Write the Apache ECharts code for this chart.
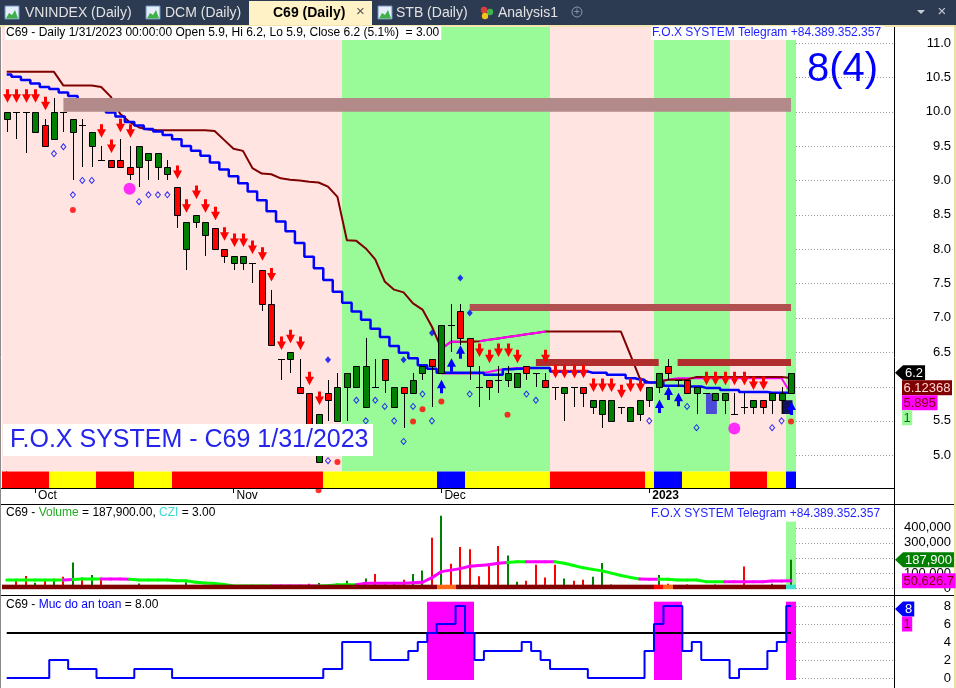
<!DOCTYPE html>
<html><head><meta charset="utf-8">
<script src="https://cdn.jsdelivr.net/npm/echarts@6/dist/echarts.min.js"></script>
<style>html,body{margin:0;padding:0;background:#fff;overflow:hidden}#c{width:956px;height:688px}</style>
</head><body><div id="c"></div>
<script>
// ---------------- DATA ----------------
const ticker = 'C69';
const dates = [
 '2022-09-28','2022-09-29','2022-09-30',
 '2022-10-03','2022-10-04','2022-10-05','2022-10-06','2022-10-07','2022-10-10','2022-10-11','2022-10-12','2022-10-13','2022-10-14',
 '2022-10-17','2022-10-18','2022-10-19','2022-10-20','2022-10-21','2022-10-24','2022-10-25','2022-10-26','2022-10-27','2022-10-28','2022-10-31',
 '2022-11-01','2022-11-02','2022-11-03','2022-11-04','2022-11-07','2022-11-08','2022-11-09','2022-11-10','2022-11-11','2022-11-14','2022-11-15',
 '2022-11-16','2022-11-17','2022-11-18','2022-11-21','2022-11-22','2022-11-23','2022-11-24','2022-11-25','2022-11-28','2022-11-29','2022-11-30',
 '2022-12-01','2022-12-02','2022-12-05','2022-12-06','2022-12-07','2022-12-08','2022-12-09','2022-12-12','2022-12-13','2022-12-14','2022-12-15',
 '2022-12-16','2022-12-19','2022-12-20','2022-12-21','2022-12-22','2022-12-23','2022-12-26','2022-12-27','2022-12-28','2022-12-29','2022-12-30',
 '2023-01-03','2023-01-04','2023-01-05','2023-01-06','2023-01-09','2023-01-10','2023-01-11','2023-01-12','2023-01-13','2023-01-16','2023-01-17',
 '2023-01-18','2023-01-19','2023-01-27','2023-01-30','2023-01-31'];
const monthNames = ['Jan','Feb','Mar','Apr','May','Jun','Jul','Aug','Sep','Oct','Nov','Dec'];

const open = [9.9,10.0,10.0,9.7,9.8,9.6,10.0,9.7,9.8,9.5,
 9.3,9.3,9.3,9.2,9.2,9.3,9.2,9.1,8.9,8.0,
 8.4,8.2,8.3,8.0,7.8,7.8,7.8,7.7,7.2,6.4,
 6.4,6.0,5.9,4.9,5.9,5.5,6.0,6.0,5.7,6.0,
 6.4,5.7,6.0,5.9,6.2,6.4,6.2,6.9,7.1,6.7,
 6.0,6.1,6.1,6.1,6.0,6.3,6.2,6.1,6.0,5.9,
 6.0,6.0,5.7,5.6,5.5,5.7,5.5,5.6,5.8,6.0,
 6.3,6.1,6.1,5.9,5.9,5.8,5.8,5.6,5.7,5.7,
 5.8,5.8,5.8,5.9];
const high = [10.0,10.0,10.0,10.0,9.9,10.2,10.0,9.9,9.9,9.7,
 9.5,9.3,9.6,9.5,9.5,9.4,9.4,9.3,8.9,8.4,
 8.5,8.4,8.3,8.0,7.9,7.9,7.8,7.7,7.4,6.4,
 6.5,6.4,5.9,5.6,6.1,6.2,6.2,6.3,6.7,6.4,
 6.4,6.0,6.0,6.2,6.3,6.4,6.9,7.2,7.2,6.7,
 6.3,6.1,6.3,6.3,6.2,6.3,6.2,6.2,6.0,6.0,
 6.0,6.0,5.8,5.8,5.8,5.7,5.7,5.8,6.0,6.2,
 6.4,6.1,6.1,6.0,5.9,5.9,5.9,5.9,5.9,5.8,
 5.8,5.9,6.0,6.2];
const low = [9.7,9.6,9.4,9.7,9.5,9.6,9.7,9.0,9.2,9.2,
 9.3,9.2,9.2,9.0,8.9,9.0,9.0,9.0,8.3,7.7,
 8.3,7.9,8.0,7.8,7.7,7.7,7.5,7.1,6.6,6.1,
 6.2,5.9,5.3,4.9,5.5,5.5,5.5,6.0,5.7,6.0,
 5.9,5.7,5.4,5.9,6.1,5.7,6.2,6.5,6.6,6.1,
 5.7,5.8,5.9,6.0,6.0,6.1,6.0,6.0,5.8,5.5,
 5.7,5.7,5.6,5.4,5.5,5.6,5.5,5.5,5.7,5.9,
 6.1,6.0,5.9,5.6,5.9,5.8,5.6,5.6,5.6,5.6,
 5.6,5.6,5.6,5.9];
const close = [10.0,10.0,10.0,10.0,9.5,10.0,10.0,9.9,9.8,9.7,
 9.3,9.2,9.2,9.1,9.5,9.4,9.4,9.2,8.5,8.4,
 8.5,8.4,8.0,7.9,7.9,7.9,7.8,7.2,6.6,6.4,
 6.5,5.9,5.3,5.6,5.8,6.0,6.2,6.3,6.3,6.0,
 6.1,6.0,5.9,6.1,6.3,6.3,6.9,6.9,6.7,6.3,
 6.0,6.0,6.1,6.2,6.2,6.2,6.2,6.0,6.0,6.0,
 6.0,5.9,5.8,5.8,5.8,5.7,5.7,5.8,6.0,6.2,
 6.2,6.1,5.9,6.0,5.9,5.9,5.9,5.6,5.7,5.8,
 5.7,5.9,5.9,6.2];
const volume = [20000,49000,81000,36000,49000,63000,76000,171000,72000,88000,
 70000,18000,15000,15000,32000,18000,18000,18000,15000,40000,
 12000,15000,12000,10000,14000,12000,10000,14000,22000,10000,
 16000,12000,30000,35000,15000,30000,50000,20000,65000,94000,
 40000,30000,56000,94000,117000,334000,479000,162000,272000,257000,
 80000,153000,279000,216000,43000,50000,155000,72000,155000,65000,
 50000,56000,76000,167000,25000,15000,20000,15000,20000,88000,
 30000,20000,25000,15000,20000,25000,20000,15000,144000,20000,
 15000,30000,20000,187900];
const volMA = [55000,55000,55000,55000,55000,55000,55000,58000,62000,62000,
 62000,62000,62000,60000,55000,55000,55000,55000,50000,50000,
 40000,35000,32000,25000,15000,15000,15000,15000,15000,15000,
 15000,15000,15000,15000,17000,24000,24000,24000,34000,34000,
 34000,34000,34000,36000,40000,70000,110000,120000,130000,145000,
 150000,155000,165000,170000,175000,175000,175000,175000,175000,165000,
 150000,135000,125000,115000,100000,85000,72000,62000,60000,60000,
 60000,55000,55000,55000,44000,44000,44000,44000,44000,44000,
 44000,48000,48000,50626.7];
const maColorRuns = [['g',7],['m',1],['g',3],['m',3],['g',15],['m',5],['g',4],['m',16],['g',2],['m',3],['g',9],['m',2],['g',7],['m',7]];
const bandRuns = [['M',46],['O',2],['M',21],['R',1],['O',1],['M',12],['C',1]];
const volHighlightIdx = [83];
const volHighlightTop = 440000;

const trail = [10.58,10.58,10.58,10.58,10.58,10.58,10.38,10.38,10.38,10.38,
 10.36,10.22,9.97,9.85,9.77,9.74,9.73,9.73,9.73,9.73,
 9.73,9.73,9.72,9.59,9.46,9.43,9.18,9.10,9.09,9.03,
 9.01,9.00,8.98,8.97,8.91,8.76,8.13,8.12,8.01,7.85,
 7.53,7.41,7.37,7.21,7.12,6.87,6.55,6.65,6.65,6.65,
 6.66,6.68,6.70,6.72,6.74,6.76,6.78,6.80,6.80,6.80,
 6.80,6.80,6.80,6.80,6.80,6.80,6.46,6.12,6.06,6.06,
 6.10,6.10,6.10,6.14,6.14,6.14,6.14,6.14,6.14,6.14,
 6.14,6.14,6.14,6.12368];
const trailHiSegs = [{start:46, vals:[6.55,6.65,6.65]},{start:50, vals:[6.66,6.68,6.70,6.72,6.74,6.76,6.78,6.80]}];
const blueLine = [10.54,10.51,10.46,10.41,10.36,10.33,10.28,10.23,10.17,10.11,
 10.05,9.99,9.93,9.85,9.80,9.75,9.71,9.66,9.60,9.50,
 9.43,9.36,9.26,9.16,9.06,8.96,8.84,8.71,8.55,8.40,
 8.26,8.09,7.89,7.72,7.55,7.38,7.22,7.09,6.97,6.84,
 6.72,6.59,6.49,6.41,6.31,6.26,6.20,6.20,6.20,6.20,
 6.20,6.17,6.17,6.25,6.26,6.27,6.27,6.27,6.22,6.22,
 6.22,6.22,6.20,6.20,6.17,6.17,6.12,6.10,6.06,6.06,
 6.01,6.01,6.00,6.00,5.98,5.98,5.95,5.95,5.92,5.92,
 5.92,5.91,5.91,5.91];
const magLoSegs = [{start:46, vals:[6.19,6.19,6.19,6.19,6.19,6.21,6.24,6.26,6.27,6.27,6.27]},
 {start:69, vals:[6.09,6.10,6.12,6.12,6.12,6.12,6.12,6.12,6.12,6.12,6.12,6.12,6.12,6.12,5.895]}];

const sellIdx = [0,1,2,3,4,10,11,12,13,18,19,20,21,22,23,24,25,26,27,28,29,30,31,32,33,50,51,52,53,54,57,58,59,60,61,62,63,64,65,66,67,74,75,76,77,78,79,80];
const sellTip = [10.13,10.13,10.13,10.13,10.02,9.62,9.40,9.70,9.62,9.02,8.53,8.73,8.53,8.42,8.12,8.03,8.03,7.93,7.83,7.53,6.53,6.63,6.53,6.02,5.73,6.43,6.34,6.43,6.43,6.34,6.34,6.12,6.12,6.12,6.12,5.92,5.92,5.92,5.83,5.92,5.92,6.02,6.02,6.02,6.02,6.02,5.95,5.95];
const buyIdx = [46,47,48,69,70,71,83];
const buyTip = [6.10,6.41,6.60,5.81,6.00,5.91,5.78];
const hollowDiamonds = [[5,9.39],[6,9.49],[7,8.79],[8,9.0],[9,9.0],[14,8.69],[15,8.79],[16,8.79],[17,8.79],[34,4.92],[37,5.80],[38,5.50],[39,5.80],[40,5.71],[41,5.50],[42,5.20],[43,5.71],[44,5.89],[45,5.50],[49,5.89],[55,5.89],[56,5.80],[68,5.50],[72,5.71],[73,5.40],[81,5.40],[82,5.50]];
const filledDiamonds = [[34,6.39],[42,6.39],[45,6.78],[48,7.58],[49,7.07]];
const redDots = [[7,8.57],[33,4.49],[35,4.90],[43,5.49],[44,5.67],[46,5.78],[53,5.59],[83,5.49]];
const magentaDots = [[13,8.88],[77,5.39]];

const zoneFrom = [6,49,56,71], zoneTo = [83,83,69,83], zoneLo = [10.0,7.1,6.3,6.3], zoneHi = [10.2,7.2,6.4,6.4];
const boxFrom = [74,82], boxTo = [75,83], boxLo = [5.6,5.6], boxHi = [5.9,5.8];

const bgRuns = [['p',36],['g',22],['p',11],['g',8],['p',6],['g',1]];
const stripRuns = [['r',5],['y',5],['r',4],['y',4],['r',16],['y',12],['b',3],['y',9],['r',10],['y',1],['b',3],['y',5],['r',4],['y',2],['b',1]];

const safety = [0,0,0,0,0,2,2,1,1,1,
 0,0,0,0,1,1,1,1,0,0,
 0,0,0,0,0,0,0,0,0,0,
 0,0,0,0,1,1,4,4,4,2,
 2,2,2,3,4,5,6,6,8,5,
 2,3,3,3,3,4,3,2,1,1,
 1,1,0,0,0,0,0,0,3,6,
 8,8,3,4,2,2,2,0,1,1,
 1,3,4,8];
const safetyThreshold = 5;
const safeBandTop = 8.48, safeBandBottom = -0.22;

const priceTicks = [5,5.5,6,6.5,7,7.5,8,8.5,9,9.5,10,10.5,11];
const volTicks = [0,100000,200000,300000,400000];
const safeTicks = [0,2,4,6,8];
const signalCount = 8, signalSub = 4, czi = 3.00;

// ---------------- HELPERS ----------------
const N = dates.length;
function expand(runs){ const out=[]; runs.forEach(([k,n])=>{for(let j=0;j<n;j++) out.push(k);}); return out; }
function segs(list){ const out=new Array(N).fill(null); list.forEach(s=>s.vals.forEach((v,j)=>{out[s.start+j]=v;})); return out; }
const bgState = expand(bgRuns), stripState = expand(stripRuns), maColor = expand(maColorRuns), bandState = expand(bandRuns);
const trailHi = segs(trailHiSegs), magLo = segs(magLoSegs);
const FONT = '"Liberation Sans", Arial, sans-serif';
const C = {pink:'#FFE4E1', green:'#98FB98', r:'#FF0000', y:'#FFFF00', b:'#0000FF', up:'#008000', dn:'#FF0000'};
const bandColor = {M:'#800000', O:'#FF6A1A', R:'#FF0000', C:'#40E0D0'};
const zoneColor = ['#B38A8A','#B05050','#B02E2E','#B02E2E'];
const boxColor = ['#4B4BD8','#12125C'];
const fmtDate = d => { const [y,m,dd]=d.split('-'); return (+m)+'/'+(+dd)+'/'+y; };
const monthIdx = [], monthLbl = {};
dates.forEach((d,i)=>{ if(i>0 && d.slice(5,7)!==dates[i-1].slice(5,7)){ monthIdx.push(i); const m=+d.slice(5,7); monthLbl[i] = m===1 ? '{b|'+d.slice(0,4)+'}' : monthNames[m-1]; }});
const XMAX = 93.9;

const chart = echarts.init(document.getElementById('c'), null, {renderer:'canvas', width:956, height:688});
const grids = [
 {left:2, top:27, width:892, height:461, outerBoundsMode:'none'},
 {left:2, top:505, width:892, height:90, outerBoundsMode:'none'},
 {left:2, top:596, width:892, height:92, outerBoundsMode:'none'}
];
const yRange = [[4.5226,11.2329],[-44200,549800],[-1.111,9.111]];
function xAxisCfg(g){
 if (g!==0) return {type:'value', gridIndex:g, min:-0.5, max:XMAX, show:false, axisLine:{show:false}, axisTick:{show:false}, axisLabel:{show:false}, splitLine:{show:false}, minorTick:{show:false}, minorSplitLine:{show:false}};
 return {type:'value', gridIndex:g, min:-0.5, max:XMAX, show:true,
  axisLine:{show:true, onZero:false, lineStyle:{color:'#000', width:1}},
  axisTick:{show:true, customValues:monthIdx, length:5, lineStyle:{color:'#000'}},
  axisLabel:{show:true, customValues:monthIdx, formatter:v=>monthLbl[v]||'', align:'left', margin:2, padding:[0,0,0,3],
   fontSize:12, color:'#000', fontFamily:FONT, rich:{b:{fontWeight:'bold', fontSize:12, fontFamily:FONT, color:'#000'}}},
  splitLine:{show:false}, minorTick:{show:false}, minorSplitLine:{show:false}};
}
function yAxisCfg(g, ticks, fmt){
 return {type:'value', gridIndex:g, position:'right', min:yRange[g][0], max:yRange[g][1],
  axisLine:{show:true, lineStyle:{color:'#000'}},
  axisTick:{show:true, customValues:ticks, length:5, inside:false, lineStyle:{color:'#000'}},
  axisLabel:{show:true, customValues:ticks, formatter:fmt, align:'right', margin:57, fontSize:13, color:'#000', fontFamily:FONT},
  splitLine:{show:false}, minorTick:{show:false}, minorSplitLine:{show:false}};
}
function panelBg(g){
 return {type:'custom', xAxisIndex:g, yAxisIndex:g, z:1, silent:true, data:[[0, yRange[g][0]]], encode:{x:0,y:1},
  renderItem:(p,api)=>{ const cs=p.coordSys; return {type:'rect', shape:{x:cs.x, y:cs.y, width:cs.width, height:cs.height}, style:{fill:'#fff'}}; }};
}
function gridLineSeries(g, ticks){
 return {type:'custom', xAxisIndex:g, yAxisIndex:g, z:1, silent:true,
  data:ticks.map(v=>[N-0.5, v]), encode:{x:0,y:1},
  renderItem:(p,api)=>{ const pt=api.coord([api.value(0), api.value(1)]); const cs=p.coordSys; const y=Math.round(pt[1])+0.5;
   return {type:'line', shape:{x1:Math.round(pt[0]), y1:y, x2:cs.x+cs.width, y2:y}, style:{stroke:'#9c9c9c', lineWidth:1, lineDash:[1,2]}}; }};
}
function lineS(data, color, width, extra){
 return Object.assign({type:'line', xAxisIndex:0, yAxisIndex:0, data:data.map((v,i)=>[i,v]), showSymbol:false, symbol:'none', silent:true,
  connectNulls:false, lineStyle:{color, width}, itemStyle:{color}, emphasis:{disabled:true}, z:3}, extra||{});
}
function arrowRender(dir, color){
 return (p,api)=>{ const pt=api.coord([api.value(0), api.value(1)]); const x=Math.round(pt[0])+0.5, y=pt[1]; const s=dir;
  const pts=[[x,y],[x-4.5,y-8.5*s],[x-1.5,y-8.5*s],[x-1.5,y-13.5*s],[x+1.5,y-13.5*s],[x+1.5,y-8.5*s],[x+4.5,y-8.5*s]];
  return {type:'polygon', shape:{points:pts}, style:{fill:color}}; };
}

const series = [
 panelBg(1), panelBg(2),
 // backgrounds + colour strip
 {type:'custom', xAxisIndex:0, yAxisIndex:0, z:1, silent:true, data:bgState.map((s,i)=>[i,6]), encode:{x:0,y:1},
  renderItem:(p,api)=>{ const i=api.value(0); const a=api.coord([i-0.5,6]), b=api.coord([i+0.5,6]); const cs=p.coordSys;
   const x0=Math.round(a[0]), x1=Math.round(b[0]);
   return {type:'group', children:[
    {type:'rect', shape:{x:x0, y:cs.y, width:x1-x0, height:cs.height-16.5}, style:{fill: bgState[i]==='g'?C.green:C.pink}},
    {type:'rect', shape:{x:x0, y:cs.y+cs.height-16.5, width:x1-x0, height:16.5}, style:{fill: C[stripState[i]]}}]}; }},
 gridLineSeries(0, priceTicks), gridLineSeries(1, volTicks), gridLineSeries(2, safeTicks),
 lineS(trail, '#800000', 2),
 lineS(blueLine, '#0000FF', 2.5, {step:'middle'}),
 lineS(magLo, '#FF00FF', 2, {z:2}),
 lineS(trailHi, '#FF00FF', 2),
 // resistance zones
 {type:'custom', xAxisIndex:0, yAxisIndex:0, z:4, silent:true, data:zoneFrom.map((f,k)=>[f,zoneTo[k],zoneLo[k],zoneHi[k]]), encode:{x:[0,1],y:[2,3]},
  renderItem:(p,api)=>{ const a=api.coord([api.value(0),api.value(3)]), b=api.coord([api.value(1),api.value(2)]);
   return {type:'rect', shape:{x:a[0], y:a[1], width:b[0]-a[0], height:b[1]-a[1]}, style:{fill:zoneColor[p.dataIndex]}}; }},
 {type:'custom', xAxisIndex:0, yAxisIndex:0, z:4, silent:true, data:boxFrom.map((f,k)=>[f,boxTo[k],boxLo[k],boxHi[k]]), encode:{x:[0,1],y:[2,3]},
  renderItem:(p,api)=>{ const a=api.coord([api.value(0),api.value(3)]), b=api.coord([api.value(1),api.value(2)]);
   return {type:'rect', shape:{x:a[0], y:a[1], width:b[0]-a[0]+1.5, height:b[1]-a[1]}, style:{fill:boxColor[p.dataIndex]}}; }},
 // candles
 {type:'custom', xAxisIndex:0, yAxisIndex:0, z:5, silent:true, data:dates.map((d,i)=>[i,open[i],close[i],low[i],high[i]]), encode:{x:0,y:[1,2,3,4]},
  renderItem:(p,api)=>{ const i=api.value(0), o=api.value(1), c=api.value(2), l=api.value(3), h=api.value(4);
   const pO=api.coord([i,o]), pC=api.coord([i,c]), pL=api.coord([i,l]), pH=api.coord([i,h]);
   const x=Math.round(pO[0])+0.5; const ch=[];
   ch.push({type:'line', shape:{x1:x, y1:Math.round(pH[1]), x2:x, y2:Math.round(pL[1])}, style:{stroke:'#000', lineWidth:1}});
   if (o===c) ch.push({type:'line', shape:{x1:x-3.5, y1:Math.round(pO[1])+0.5, x2:x+3.5, y2:Math.round(pO[1])+0.5}, style:{stroke:'#000', lineWidth:1}});
   else { const t=Math.round(Math.min(pO[1],pC[1]))+0.5, b=Math.round(Math.max(pO[1],pC[1]))+0.5;
    ch.push({type:'rect', shape:{x:x-3, y:t, width:6, height:b-t}, style:{fill:c>o?C.up:C.dn, stroke:'#000', lineWidth:1}}); }
   return {type:'group', children:ch}; }},
 {type:'custom', xAxisIndex:0, yAxisIndex:0, z:6, silent:true, data:sellIdx.map((i,k)=>[i,sellTip[k]]), encode:{x:0,y:1}, renderItem:arrowRender(1,'#FF0000')},
 {type:'custom', xAxisIndex:0, yAxisIndex:0, z:6, silent:true, data:buyIdx.map((i,k)=>[i,buyTip[k]]), encode:{x:0,y:1}, renderItem:arrowRender(-1,'#0000FF')},
 {type:'scatter', xAxisIndex:0, yAxisIndex:0, z:6, silent:true, data:hollowDiamonds, symbol:'diamond', symbolSize:[5,6], itemStyle:{color:'rgba(0,0,0,0)', borderColor:'#0000FF', borderWidth:1}},
 {type:'scatter', xAxisIndex:0, yAxisIndex:0, z:6, silent:true, data:filledDiamonds, symbol:'diamond', symbolSize:[6,7], itemStyle:{color:'#0000FF'}},
 {type:'scatter', xAxisIndex:0, yAxisIndex:0, z:6, silent:true, clip:false, data:redDots, symbol:'circle', symbolSize:6, itemStyle:{color:'#FF0000'}},
 {type:'scatter', xAxisIndex:0, yAxisIndex:0, z:6, silent:true, data:magentaDots, symbol:'circle', symbolSize:12, itemStyle:{color:'#FF00FF'}},
 // volume panel
 {type:'custom', xAxisIndex:1, yAxisIndex:1, z:2, silent:true, data:volHighlightIdx.map(i=>[i,volHighlightTop]), encode:{x:0,y:1},
  renderItem:(p,api)=>{ const i=api.value(0); const a=api.coord([i-0.5,api.value(1)]), b=api.coord([i+0.5,0]);
   return {type:'rect', shape:{x:Math.round(a[0]), y:a[1], width:Math.round(b[0])-Math.round(a[0]), height:b[1]-a[1]}, style:{fill:C.green}}; }},
 {type:'custom', xAxisIndex:1, yAxisIndex:1, z:3, silent:true, data:volume.map((v,i)=>[i,v]), encode:{x:0,y:1},
  renderItem:(p,api)=>{ const i=api.value(0); const a=api.coord([i,0]), b=api.coord([i,api.value(1)]); const x=Math.round(a[0]);
   return {type:'rect', shape:{x:x-1, y:b[1], width:2, height:a[1]-b[1]}, style:{fill: close[i]>open[i]?'#008000':'#FF0000'}}; }},
 {type:'custom', xAxisIndex:1, yAxisIndex:1, z:4, silent:true, data:volMA.map((v,i)=>[i,v]), encode:{x:0,y:1},
  renderItem:(p,api)=>{ const i=api.value(0); if(i===0) return null; const a=api.coord([i-1,volMA[i-1]]), b=api.coord([i,volMA[i]]);
   return {type:'line', shape:{x1:a[0], y1:a[1], x2:b[0], y2:b[1]}, style:{stroke: maColor[i]==='g'?'#00FF00':'#FF00FF', lineWidth:3, lineCap:'round'}}; }},
 {type:'custom', xAxisIndex:1, yAxisIndex:1, z:5, silent:true, data:bandState.map((s,i)=>[i,0]), encode:{x:0,y:1},
  renderItem:(p,api)=>{ const i=api.value(0); const a=api.coord([i-0.5,24000]), b=api.coord([i+0.5,-6000]);
   return {type:'rect', shape:{x:Math.round(a[0]), y:a[1], width:Math.round(b[0])-Math.round(a[0]), height:b[1]-a[1]}, style:{fill:bandColor[bandState[i]]}}; }},
 // safety panel
 {type:'custom', xAxisIndex:2, yAxisIndex:2, z:2, silent:true, data:safety.map((v,i)=>[i,v]).filter(d=>d[1]>=safetyThreshold), encode:{x:0,y:1},
  renderItem:(p,api)=>{ const i=api.value(0); const a=api.coord([i-0.5,safeBandTop]), b=api.coord([i+0.5,safeBandBottom]);
   return {type:'rect', shape:{x:Math.round(a[0]), y:a[1], width:Math.round(b[0])-Math.round(a[0]), height:b[1]-a[1]}, style:{fill:'#FF00FF'}}; }},
 {type:'line', xAxisIndex:2, yAxisIndex:2, z:3, silent:true, showSymbol:false, symbol:'none', data:safety.map((v,i)=>[i,safetyThreshold]), lineStyle:{color:'#000', width:2}, emphasis:{disabled:true}},
 {type:'line', xAxisIndex:2, yAxisIndex:2, z:4, silent:true, showSymbol:false, symbol:'none', step:'middle', data:safety.map((v,i)=>[i,v]), lineStyle:{color:'#0000FF', width:2}, emphasis:{disabled:true}}
];

// ---------------- STATIC GRAPHICS ----------------
const G = [];
G.push({type:'rect', z:0, shape:{x:0,y:0,width:956,height:26}, style:{fill:'#2D3B52'}});
G.push({type:'rect', z:1, shape:{x:249,y:1,width:123,height:25}, style:{fill:'#FFF2C7'}});
G.push({type:'rect', z:1, shape:{x:0,y:25,width:956,height:2}, style:{fill:'#F3E3AE'}});
function icon(x){ return {type:'group', x:x, y:6, z:2, children:[
 {type:'rect', shape:{x:0,y:0,width:14,height:13}, style:{fill:'#E4EEF9', stroke:'#6F8FC0', lineWidth:1}},
 {type:'polygon', shape:{points:[[1,12.5],[4,7],[7,9],[10,4],[13,12.5]]}, style:{fill:'#3FAF4A'}}]}; }
[[5,'VNINDEX (Daily)',25],[146,'DCM (Daily)',165],[255,'C69 (Daily)',273],[378,'STB (Daily)',396]].forEach(([ix,t,tx],k)=>{
 G.push(icon(ix));
 G.push({type:'text', x:tx, y:13, z:2, style:{text:t, fill:k===2?'#000':'#E2E2E2', fontSize:14, fontWeight:k===2?'bold':'normal', fontFamily:FONT, verticalAlign:'middle'}});
});
G.push({type:'text', x:356, y:12, z:2, style:{text:'×', fill:'#555', fontSize:15, fontFamily:FONT, verticalAlign:'middle'}});
G.push({type:'group', x:480, y:6, z:2, children:[
 {type:'circle', shape:{cx:4,cy:4,r:3.2}, style:{fill:'#E23B3B'}},
 {type:'circle', shape:{cx:10,cy:6,r:3.2}, style:{fill:'#3DB54A'}},
 {type:'circle', shape:{cx:5,cy:10,r:3.2}, style:{fill:'#F0C419'}}]});
G.push({type:'text', x:498, y:13, z:2, style:{text:'Analysis1', fill:'#E2E2E2', fontSize:14, fontFamily:FONT, verticalAlign:'middle'}});
G.push({type:'circle', z:2, shape:{cx:577,cy:12,r:5}, style:{fill:'none', stroke:'#8C97AA', lineWidth:1}});
G.push({type:'text', x:577, y:12, z:2, style:{text:'+', fill:'#8C97AA', fontSize:10, fontFamily:FONT, align:'center', verticalAlign:'middle'}});
G.push({type:'polygon', z:2, shape:{points:[[917,10],[925,10],[921,14]]}, style:{fill:'#C8CCD4'}});
G.push({type:'text', x:942, y:12, z:2, style:{text:'×', fill:'#C8CCD4', fontSize:15, fontFamily:FONT, align:'center', verticalAlign:'middle'}});
// borders / separators
G.push({type:'line', z:60, shape:{x1:894.5,y1:27,x2:894.5,y2:688}, style:{stroke:'#000', lineWidth:1}});
G.push({type:'line', z:60, shape:{x1:0,y1:488.5,x2:894,y2:488.5}, style:{stroke:'#000', lineWidth:1}});
G.push({type:'line', z:60, shape:{x1:0,y1:504.5,x2:956,y2:504.5}, style:{stroke:'#000', lineWidth:1}});
G.push({type:'line', z:60, shape:{x1:0,y1:595.5,x2:956,y2:595.5}, style:{stroke:'#000', lineWidth:1}});
G.push({type:'line', z:60, shape:{x1:0.5,y1:27,x2:0.5,y2:688}, style:{stroke:'#8a8a8a', lineWidth:1}});
G.push({type:'line', z:60, shape:{x1:955,y1:25,x2:955,y2:688}, style:{stroke:'#F0DDA0', lineWidth:2}});
// texts
const last=N-1; const pct=((close[last]/close[last-1]-1)*100).toFixed(1);
const header = `${ticker} - Daily ${fmtDate(dates[last])} 00:00:00 Open ${open[last].toFixed(1)}, Hi ${high[last].toFixed(1)}, Lo ${low[last].toFixed(1)}, Close ${close[last].toFixed(1)} (${pct}%)  = ${czi.toFixed(2)}`;
G.push({type:'text', x:5, y:33, z:50, style:{text:header, fill:'#000', fontSize:12, fontFamily:FONT, verticalAlign:'middle', backgroundColor:'#fff', padding:[1,2,1,1]}});
const fox = 'F.O.X SYSTEM Telegram +84.389.352.357';
G.push({type:'text', x:651, y:33, z:50, style:{text:fox, fill:'#1F1FFF', fontSize:12, fontFamily:FONT, verticalAlign:'middle', backgroundColor:'#fff', padding:[1,3,1,1]}});
G.push({type:'text', x:651, y:514, z:50, style:{text:fox, fill:'#1F1FFF', fontSize:12, fontFamily:FONT, verticalAlign:'middle'}});
G.push({type:'text', x:807, y:70, z:50, style:{text:`${signalCount}(${signalSub})`, fill:'#0000FF', fontSize:40, fontFamily:FONT, verticalAlign:'middle'}});
G.push({type:'rect', z:50, shape:{x:3,y:424,width:370,height:32}, style:{fill:'#fff'}});
G.push({type:'text', x:10, y:440, z:51, style:{text:`F.O.X SYSTEM - ${ticker} ${fmtDate(dates[last])}`, fill:'#2424EE', fontSize:25, fontFamily:FONT, verticalAlign:'middle'}});
const volTxt = volume[last].toLocaleString('en-US',{minimumFractionDigits:2, maximumFractionDigits:2});
G.push({type:'text', x:6, y:513, z:50, style:{text:`{k|${ticker} - }{g|Volume}{k| = ${volTxt}, }{c|CZI}{k| = ${czi.toFixed(2)}}`, verticalAlign:'middle',
 rich:{k:{fill:'#000', fontSize:12, fontFamily:FONT}, g:{fill:'#22AA22', fontSize:12, fontFamily:FONT}, c:{fill:'#40D8D0', fontSize:12, fontFamily:FONT}}}});
G.push({type:'text', x:6, y:605, z:50, style:{text:`{k|${ticker} - }{b|Muc do an toan}{k| = ${safety[last].toFixed(2)}}`, verticalAlign:'middle',
 rich:{k:{fill:'#000', fontSize:12, fontFamily:FONT}, b:{fill:'#0000FF', fontSize:12, fontFamily:FONT}}}});

chart.setOption({animation:false, grid:grids,
 xAxis:[xAxisCfg(0),xAxisCfg(1),xAxisCfg(2)],
 yAxis:[yAxisCfg(0,priceTicks,v=>v.toFixed(1)), yAxisCfg(1,volTicks,v=>v.toLocaleString('en-US')), yAxisCfg(2,safeTicks,v=>String(v))],
 series, graphic:{elements:G}});

// ---------------- VALUE TAGS ----------------
const mctx = document.createElement('canvas').getContext('2d');
function tw(t){ mctx.font = '13px "Liberation Sans"'; return mctx.measureText(t).width; }
function tags(axis, gridTop, list){
 let prev=-1e9;
 list.forEach(t=>{
  let yc = t.value!=null ? chart.convertToPixel({yAxisIndex:axis}, t.value) : prev+15;
  yc = Math.max(yc, prev+15, gridTop+13); prev=yc;
  const w = tw(t.text); let tx;
  if (t.pointer){ const x0=903, x1=905+w+2;
   G.push({type:'polygon', z:70, shape:{points:[[895,yc],[x0,yc-7.5],[x1,yc-7.5],[x1,yc+7.5],[x0,yc+7.5]]}, style:{fill:t.bg}}); tx=905; }
  else { G.push({type:'rect', z:70, shape:{x:902,y:yc-7.5,width:w+3,height:15}, style:{fill:t.bg}}); tx=903.5; }
  G.push({type:'text', x:tx, y:yc+0.5, z:71, style:{text:t.text, fill:t.fg, fontSize:13, fontFamily:FONT, verticalAlign:'middle'}});
 });
}
tags(0, 27, [
 {value:close[last], text:close[last].toFixed(1), bg:'#000', fg:'#fff', pointer:true},
 {value:trail[last], text:String(trail[last]), bg:'#800000', fg:'#FFD8D8'},
 {value:magLo[last], text:String(magLo[last]), bg:'#FF00FF', fg:'#800000'},
 {value:null, text:'1', bg:C.green, fg:'#245C24'}]);
tags(1, 505, [
 {value:volume[last], text:volume[last].toLocaleString('en-US'), bg:'#008000', fg:'#fff', pointer:true},
 {value:volMA[last], text:volMA[last].toLocaleString('en-US',{minimumFractionDigits:1}), bg:'#FF00FF', fg:'#800000'}]);
tags(2, 596, [
 {value:safety[last], text:String(safety[last]), bg:'#0000FF', fg:'#fff', pointer:true},
 {value:null, text:'1', bg:'#FF00FF', fg:'#800000'}]);
chart.setOption({graphic:{elements:G}});
</script></body></html>
